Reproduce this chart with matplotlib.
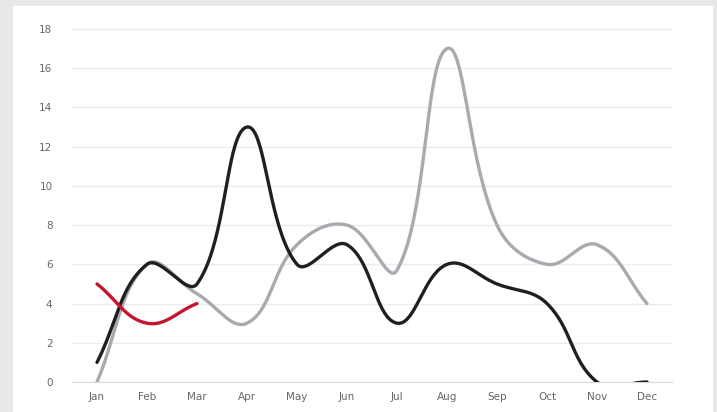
import numpy as np
import matplotlib.pyplot as plt
from matplotlib.patches import Rectangle

# Data
months = ['Jan', 'Feb', 'Mar', 'Apr', 'May', 'Jun',
          'Jul', 'Aug', 'Sep', 'Oct', 'Nov', 'Dec']
gray_vals = [0, 6, 4.5, 3, 7, 8, 5.7, 17, 8, 6, 7, 4]
black_vals = [1, 6, 5, 13, 6, 7, 3, 6, 5, 4, 0, 0]
red_vals = [5, 3, 4]

XPX, YPX = 50.0, 19.6  # px per unit, for the spline distance weighting


def spline(xs, ys, t=0.4, n=40):
    # cubic bezier smoothing with control points like a chart.js tension curve
    xs = np.asarray(xs, float)
    ys = np.asarray(ys, float)
    m = len(xs)
    cp_prev, cp_next = [], []
    for i in range(m):
        p0 = i - 1 if i > 0 else i
        p2 = i + 1 if i < m - 1 else i
        d01 = np.hypot((xs[i] - xs[p0]) * XPX, (ys[i] - ys[p0]) * YPX)
        d12 = np.hypot((xs[p2] - xs[i]) * XPX, (ys[p2] - ys[i]) * YPX)
        tot = d01 + d12
        s01 = d01 / tot if tot else 0
        s12 = d12 / tot if tot else 0
        fa, fb = t * s01, t * s12
        dx, dy = xs[p2] - xs[p0], ys[p2] - ys[p0]
        cp_prev.append((xs[i] - fa * dx, ys[i] - fa * dy))
        cp_next.append((xs[i] + fb * dx, ys[i] + fb * dy))
    ox, oy = [], []
    u = np.linspace(0, 1, n)
    for i in range(m - 1):
        P0 = (xs[i], ys[i])
        P1 = cp_next[i]
        P2 = cp_prev[i + 1]
        P3 = (xs[i + 1], ys[i + 1])
        bx = ((1 - u) ** 3 * P0[0] + 3 * (1 - u) ** 2 * u * P1[0]
              + 3 * (1 - u) * u ** 2 * P2[0] + u ** 3 * P3[0])
        by = ((1 - u) ** 3 * P0[1] + 3 * (1 - u) ** 2 * u * P1[1]
              + 3 * (1 - u) * u ** 2 * P2[1] + u ** 3 * P3[1])
        ox.extend(bx)
        oy.extend(by)
    return np.array(ox), np.array(oy)


fig = plt.figure(figsize=(7.17, 4.12), dpi=100)
fig.patch.set_facecolor('#e8e8e8')
panel = Rectangle((13 / 717, 0), 700 / 717, 406 / 412,
                  transform=fig.transFigure, facecolor='white',
                  edgecolor='none', zorder=-5)
fig.patches.append(panel)

ax = fig.add_axes([72 / 717, 30 / 412, 600 / 717, 353 / 412])
ax.set_zorder(2)
ax.set_facecolor('white')

x = np.arange(len(months))
for vals, col in [(gray_vals, '#a9a9b0'), (black_vals, '#1f1f1f')]:
    sx, sy = spline(x[:len(vals)], vals)
    ax.plot(sx, sy, color=col, lw=2.4, solid_capstyle='round', zorder=3)
sx, sy = spline(x[:len(red_vals)], red_vals)
ax.plot(sx, sy, color='#c4172f', lw=2.4, solid_capstyle='round', zorder=4)

ax.set_xlim(-0.5, 11.5)
ax.set_ylim(0, 18)
ax.set_yticks(np.arange(0, 19, 2))
ax.set_xticks(x)
ax.set_xticklabels(months)
ax.grid(axis='y', color='#ececec', lw=1)
ax.set_axisbelow(True)
for s in ['top', 'right', 'left']:
    ax.spines[s].set_visible(False)
ax.spines['bottom'].set_color('#d8d8d8')
ax.tick_params(length=0, labelsize=7.5, colors='#666666')
ax.tick_params(axis='y', pad=14)
ax.tick_params(axis='x', pad=7)

plt.savefig('out.png', dpi=100, facecolor=fig.get_facecolor())
